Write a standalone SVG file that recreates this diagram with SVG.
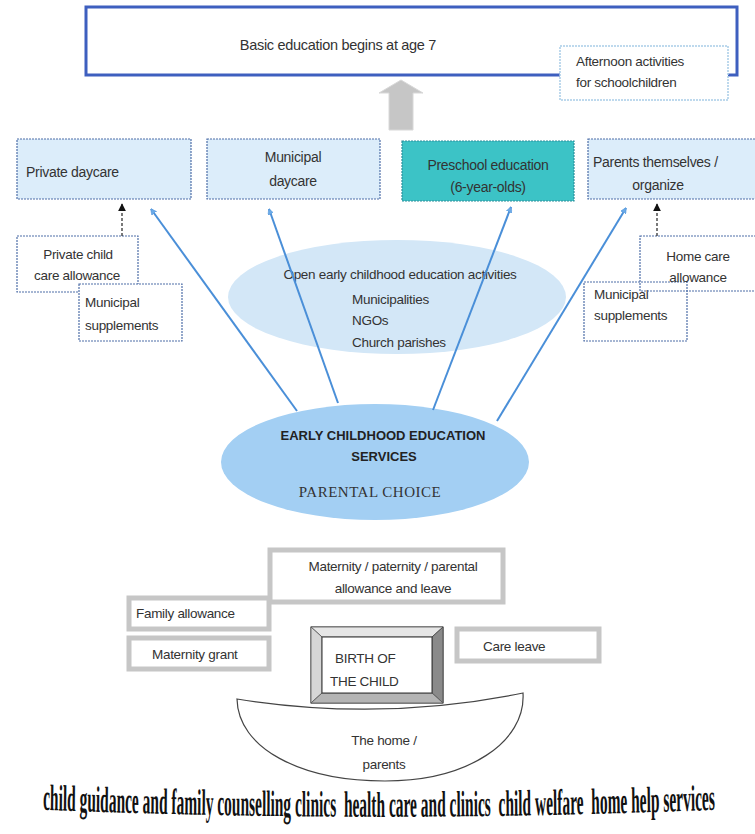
<svg xmlns="http://www.w3.org/2000/svg" width="755" height="834" viewBox="0 0 755 834">
<defs>
<style>
.t{font-family:"Liberation Sans",Arial,sans-serif;font-size:13.5px;fill:#333;letter-spacing:-0.3px}
.c{text-anchor:middle}
.box{fill:#dcedfa;stroke:#4f6fa8;stroke-width:1.2;stroke-dasharray:2 1}
.wbox{fill:#fff;stroke:#4f6fa8;stroke-width:1.2;stroke-dasharray:2 1}
.gbox{fill:#fff;stroke:#c6c6c6;stroke-width:5}
.blue{stroke:#4a8fd8;stroke-width:2;fill:none;marker-end:url(#bh)}
.dash{stroke:#222;stroke-width:1.2;stroke-dasharray:3 2;fill:none;marker-end:url(#kh)}
.wa{font-family:"Liberation Serif","Times New Roman",serif;font-weight:bold;fill:#111;white-space:pre}
</style>
<marker id="bh" viewBox="0 0 10 10" refX="9" refY="5" markerWidth="6" markerHeight="6" orient="auto" markerUnits="userSpaceOnUse">
<path d="M0,0 L10,5 L0,10 z" fill="#6aaae8" stroke="#4a8fd8" stroke-width="0.8"/>
</marker>
<marker id="kh" viewBox="0 0 10 10" refX="9" refY="5" markerWidth="8" markerHeight="8" orient="auto" markerUnits="userSpaceOnUse">
<path d="M0,0 L10,5 L0,10 z" fill="#111"/>
</marker>
<path id="arc" d="M43,-3 Q380,5 717,-3"/>
</defs>
<rect width="755" height="834" fill="#fff"/>

<g id="basic-education">
<rect x="86" y="7" width="651" height="68" fill="#fff" stroke="#3e5fbf" stroke-width="3"/>
<text class="t c" x="338" y="50" style="font-size:14.5px">Basic education begins at age 7</text>
</g>
<g id="afternoon">
<rect x="560" y="46" width="168" height="54" fill="#fff" stroke="#a9cde8" stroke-width="1.5" stroke-dasharray="2 1"/>
<text class="t" x="576" y="66">Afternoon activities</text>
<text class="t" x="576" y="87">for schoolchildren</text>
</g>
<g id="gray-arrow">
<path d="M389,130 L389,93 L379,93 L401,80 L423,93 L413,93 L413,130 Z" fill="#c6c6c6" stroke="#d8d8d8" stroke-width="1"/>
</g>

<g id="private-daycare">
<rect class="box" x="17" y="139" width="174" height="60"/>
<text class="t" x="26" y="177" style="font-size:14px">Private daycare</text>
</g>
<g id="municipal-daycare">
<rect class="box" x="207" y="139" width="173" height="60"/>
<text class="t c" x="293" y="162" style="font-size:14px">Municipal</text>
<text class="t c" x="293" y="186" style="font-size:14px">daycare</text>
</g>
<g id="preschool">
<rect x="402" y="141" width="172" height="60" fill="#3cc3c6" stroke="#2c8f9c" stroke-width="1.2" stroke-dasharray="2 1"/>
<text class="t c" x="488" y="170" style="font-size:14px">Preschool education</text>
<text class="t c" x="488" y="192" style="font-size:14px">(6-year-olds)</text>
</g>
<g id="parents">
<rect class="box" x="588" y="139" width="170" height="60"/>
<text class="t" x="593" y="167" style="font-size:14px">Parents themselves /</text>
<text class="t c" x="658" y="190" style="font-size:14px">organize</text>
</g>

<g id="private-allowance">
<rect class="wbox" x="17" y="236" width="121" height="56"/>
<text class="t c" x="78" y="259">Private child</text>
<text class="t c" x="77" y="280">care allowance</text>
</g>
<g id="municipal-supp-left">
<rect class="wbox" x="79" y="284" width="103" height="57"/>
<text class="t" x="85" y="307">Municipal</text>
<text class="t" x="85" y="330">supplements</text>
</g>
<g id="municipal-supp-right">
<rect class="wbox" x="584" y="282" width="103" height="59"/>
<text class="t" x="594" y="299">Municipal</text>
<text class="t" x="594" y="320">supplements</text>
</g>
<g id="home-care">
<rect x="640" y="236" width="118" height="55" fill="none" stroke="#4f6fa8" stroke-width="1.2" stroke-dasharray="2 1"/>
<text class="t c" x="698" y="261">Home care</text>
<text class="t c" x="698" y="282">allowance</text>
</g>

<g id="open-activities">
<ellipse cx="397" cy="297" rx="169" ry="57" fill="#d3e7f7"/>
<text class="t c" x="400" y="279">Open early childhood education activities</text>
<text class="t" x="352" y="304">Municipalities</text>
<text class="t" x="352" y="325">NGOs</text>
<text class="t" x="352" y="347">Church parishes</text>
</g>

<g id="ecec-services">
<ellipse cx="375" cy="462" rx="154" ry="58" fill="#a3cff3"/>
<text class="t c" x="383" y="440" style="font-weight:bold;fill:#222;font-size:13px;letter-spacing:0">EARLY CHILDHOOD EDUCATION</text>
<text class="t c" x="384" y="461" style="font-weight:bold;fill:#222;font-size:13px;letter-spacing:0">SERVICES</text>
<text class="c" x="370" y="497" style="font-family:'Liberation Serif','Times New Roman',serif;font-size:15px;fill:#333;letter-spacing:0.5px">PARENTAL CHOICE</text>
</g>

<g id="connectors">
<line class="blue" x1="297" y1="411" x2="151" y2="209"/>
<line class="blue" x1="338" y1="403" x2="269" y2="209"/>
<line class="blue" x1="433" y1="410" x2="511" y2="207"/>
<line class="blue" x1="497" y1="421" x2="626" y2="208"/>
<line class="dash" x1="122" y1="236" x2="122" y2="204"/>
<line class="dash" x1="657" y1="236" x2="657" y2="204"/>
</g>

<g id="maternity-leave">
<rect class="gbox" x="270" y="550" width="233" height="52"/>
<text class="t c" x="393" y="571">Maternity / paternity / parental</text>
<text class="t c" x="393" y="593">allowance and leave</text>
</g>
<g id="family-allowance">
<rect class="gbox" x="129" y="598" width="140" height="31"/>
<text class="t" x="136" y="618">Family allowance</text>
</g>
<g id="maternity-grant">
<rect class="gbox" x="129" y="638" width="140" height="31"/>
<text class="t" x="152" y="659">Maternity grant</text>
</g>
<g id="care-leave">
<rect class="gbox" x="457" y="629" width="142" height="32"/>
<text class="t" x="483" y="651">Care leave</text>
</g>

<g id="home-parents">
<path d="M237,699 Q382,722 523,693 C526,742 468,781 385,781 C300,781 238,748 237,699 Z" fill="#fff" stroke="#444" stroke-width="1.2"/>
<text class="t c" x="384" y="745">The home /</text>
<text class="t c" x="384" y="769">parents</text>
</g>

<g id="birth">
<rect x="311" y="627" width="132" height="76" fill="#ddd" stroke="#333" stroke-width="1"/>
<polygon points="311,627 443,627 432,637 322,637" fill="#e6e6e6" stroke="#555" stroke-width="0.8"/>
<polygon points="311,627 322,637 322,693 311,703" fill="#d6d6d6" stroke="#555" stroke-width="0.8"/>
<polygon points="443,627 443,703 432,693 432,637" fill="#8a8a8a" stroke="#444" stroke-width="0.8"/>
<polygon points="311,703 443,703 432,693 322,693" fill="#b4b4b4" stroke="#555" stroke-width="0.8"/>
<rect x="322" y="637" width="110" height="56" fill="#fff" stroke="#333" stroke-width="1"/>
<text class="t" x="335" y="663">BIRTH OF</text>
<text class="t" x="330" y="686">THE CHILD</text>
</g>

<g id="services-banner" transform="translate(0,815) scale(1,1.75)">
<text class="wa" font-size="21" textLength="672" lengthAdjust="spacingAndGlyphs" xml:space="preserve"><textPath href="#arc">child guidance and family counselling clinics  health care and clinics  child welfare  home help services</textPath></text>
</g>
</svg>
